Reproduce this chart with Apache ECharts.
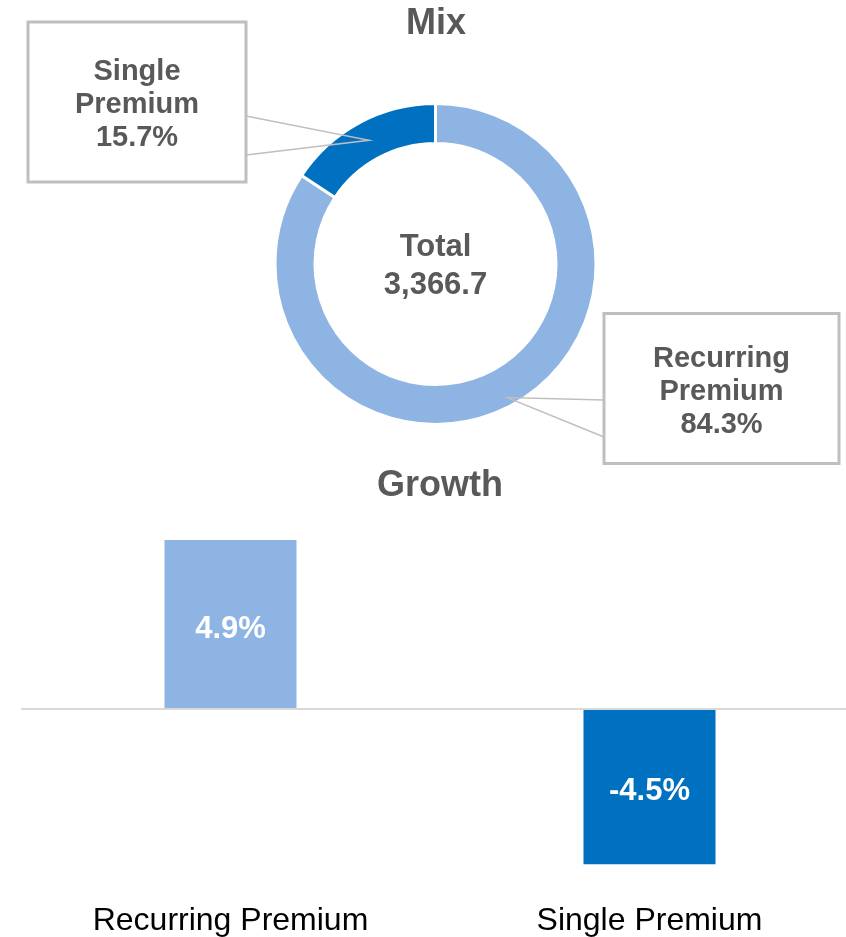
<!DOCTYPE html>
<html>
<head>
<meta charset="utf-8">
<title>Premium Mix and Growth</title>
<script src="https://cdn.jsdelivr.net/npm/echarts@6/dist/echarts.min.js"></script>
<style>
  html, body { margin: 0; padding: 0; background: #ffffff; }
  #chart { width: 846px; height: 937px; }
</style>
</head>
<body>
<div id="chart"></div>
<script>
// Premium mix (share of total, %)
const mixNames = ['Recurring Premium', 'Single Premium'];
const mixShares = [84.3, 15.7];
const mixTotal = 3366.7;

// Premium growth (%)
const growthCategories = ['Recurring Premium', 'Single Premium'];
const growthValues = [4.9, -4.5];

const LIGHT = '#8EB4E3';
const DARK = '#0070C0';
const GREY_TEXT = '#595959';
const FRAME = '#BFBFBF';
const FONT = '"Liberation Sans", Arial, Helvetica, sans-serif';
const colorByName = { 'Recurring Premium': LIGHT, 'Single Premium': DARK };

// Callout boxes for the donut: box centre and size, where the pointer leaves the box edge,
// and how deep into the ring (0 = inner edge, 1 = outer edge) the pointer reaches
const callouts = [
  { cx: 721.5, cy: 388.5, w: 235, h: 150, edgeX: 604, edgeY: [400, 437], depth: 0.78 },
  { cx: 137, cy: 102, w: 218, h: 160, edgeX: 246, edgeY: [116, 155], depth: 0.5 }
];
const CALLOUT_LINE = 33;
const CALLOUT_SHIFT = 3;

const chart = echarts.init(document.getElementById('chart'), null, { renderer: 'canvas' });

const titleTexts = [
  { type: 'text', x: 436, y: 24, style: { text: 'Mix', font: 'bold 36px ' + FONT, fill: GREY_TEXT, align: 'center', verticalAlign: 'middle' } },
  { type: 'text', x: 440, y: 486, style: { text: 'Growth', font: 'bold 36px ' + FONT, fill: GREY_TEXT, align: 'center', verticalAlign: 'middle' } },
  {
    type: 'text', x: 435.5, y: 266,
    style: {
      text: 'Total\n' + mixTotal.toLocaleString('en-US', { minimumFractionDigits: 1, maximumFractionDigits: 1 }),
      font: 'bold 31px ' + FONT, lineHeight: 38, fill: GREY_TEXT, align: 'center', verticalAlign: 'middle'
    }
  }
];

const option = {
  animation: false,
  backgroundColor: '#ffffff',
  grid: { left: 21, width: 838, top: 536.5, height: 345, containLabel: false, outerBoundsMode: 'none' },
  xAxis: {
    type: 'category',
    data: growthCategories,
    axisLine: { show: false, onZero: false },
    axisTick: { show: false },
    splitLine: { show: false },
    axisLabel: { fontFamily: FONT, fontSize: 32, color: '#000000', margin: 24 }
  },
  yAxis: {
    type: 'value', min: -5, max: 5, show: false,
    splitLine: { show: false }
  },
  series: [
    {
      type: 'pie',
      center: [435.5, 264],
      radius: [120.5, 160.5],
      startAngle: 90,
      clockwise: true,
      avoidLabelOverlap: false,
      silent: true,
      itemStyle: { borderColor: '#ffffff', borderWidth: 3 },
      data: mixNames.map((name, i) => {
        const pad = (callouts[i].h - 3 * CALLOUT_LINE) / 2;
        return {
          name,
          value: mixShares[i],
          itemStyle: { color: colorByName[name] },
          label: {
            width: callouts[i].w,
            padding: [pad + CALLOUT_SHIFT, 0, pad - CALLOUT_SHIFT, 0]
          }
        };
      }),
      label: {
        show: true,
        position: 'outside',
        formatter: p => p.name.replace(' ', '\n') + '\n' + p.value.toFixed(1) + '%',
        fontFamily: FONT,
        fontWeight: 'bold',
        fontSize: 29,
        lineHeight: CALLOUT_LINE,
        color: GREY_TEXT,
        align: 'center',
        borderColor: FRAME,
        borderWidth: 1.5,
        backgroundColor: 'transparent'
      },
      labelLine: { show: false },
      labelLayout: params => {
        const c = callouts[params.dataIndex];
        return { x: c.cx, y: c.cy - c.h / 2, align: 'center', verticalAlign: 'top', hideOverlap: false };
      }
    },
    {
      type: 'bar',
      barWidth: 132,
      silent: true,
      data: growthValues.map((v, i) => ({ value: v, itemStyle: { color: colorByName[growthCategories[i]] } })),
      label: {
        show: true,
        position: 'inside',
        offset: [0, 5],
        formatter: p => p.value.toFixed(1) + '%',
        color: '#ffffff',
        fontFamily: FONT,
        fontWeight: 'bold',
        fontSize: 31
      },
      markLine: {
        silent: true,
        symbol: 'none',
        label: { show: false },
        lineStyle: { color: '#D9D9D9', width: 2, type: 'solid' },
        data: [{ yAxis: 0 }]
      }
    }
  ]
};

chart.setOption(option);

// Pointer wedges: from the callout box edge into each donut segment at its middle angle
const pieData = chart.getModel().getSeriesByIndex(0).getData();
const pointers = callouts.map((c, i) => {
  const L = pieData.getItemLayout(i);
  const mid = (L.startAngle + L.endAngle) / 2;
  const rTip = L.r0 + c.depth * (L.r - L.r0);
  const tip = [L.cx + rTip * Math.cos(mid), L.cy + rTip * Math.sin(mid)];
  return {
    type: 'polyline',
    z: 20,
    shape: { points: [[c.edgeX, c.edgeY[0]], tip, [c.edgeX, c.edgeY[1]]] },
    style: { stroke: FRAME, lineWidth: 1.5, fill: null }
  };
});

chart.setOption({ graphic: titleTexts.concat(pointers) });
</script>
</body>
</html>
